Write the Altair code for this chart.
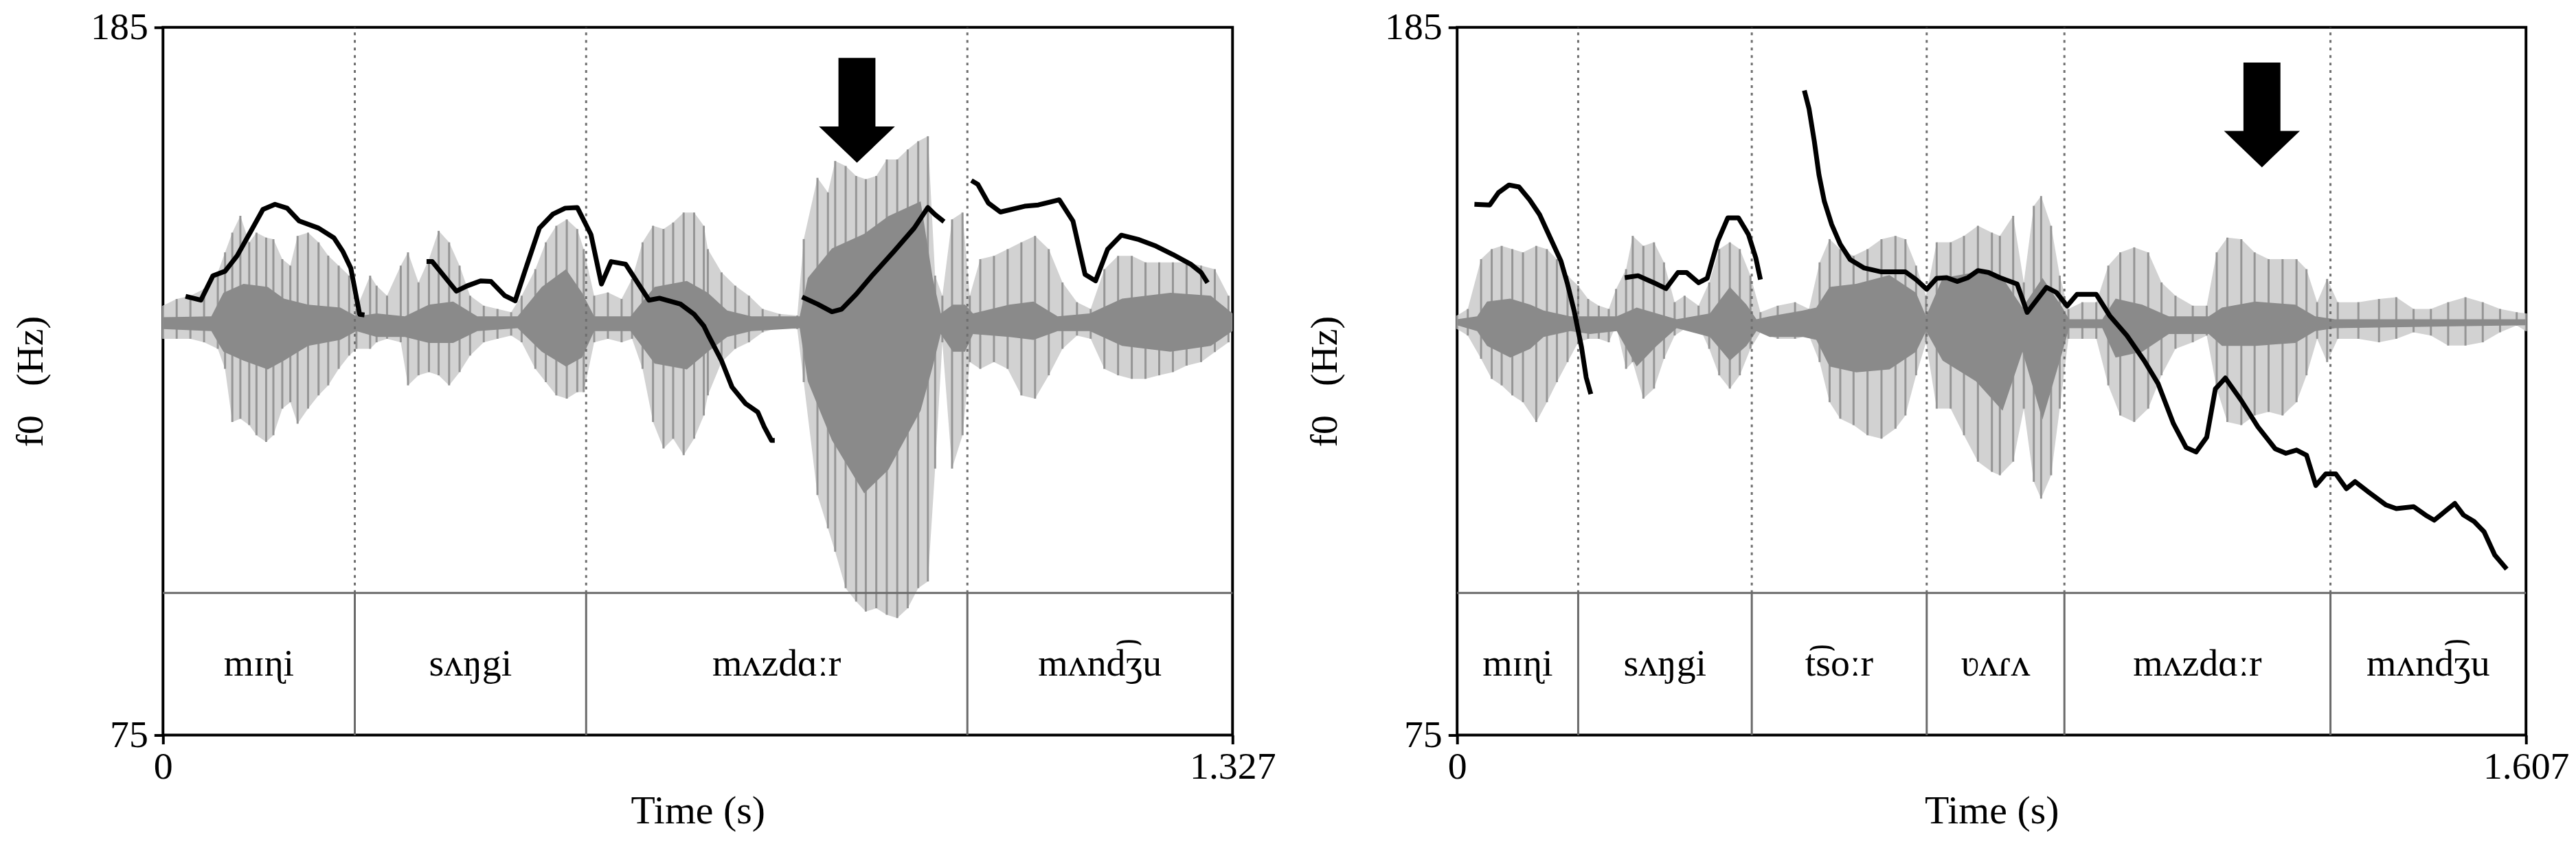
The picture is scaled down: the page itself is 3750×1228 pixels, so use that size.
import altair as alt
import pandas as pd

FONT = "Liberation Serif"
HZ_MIN, HZ_MAX = 75, 185
AMP_MIN, AMP_MAX = -1.4, 1.0
TIER_TOP = 97.1      # Hz-axis value where the text tier begins
TIER_MID = 86.1      # vertical centre of the tier

# ---------------- Left panel (1.327 s) ----------------
L_DUR = 1.327
L_BOUNDS = [0.0, 0.238, 0.525, 0.998, 1.327]
L_LABELS = ["mɪɳi", "sʌŋgi", "mʌzdɑːr", "mʌnd͡ʒu"]

L_F0_T = [
    [0.028, 0.047, 0.062, 0.077, 0.092, 0.109, 0.124, 0.139, 0.154, 0.169, 0.193, 0.212, 0.223, 0.233, 0.244, 0.250],
    [0.327, 0.334, 0.364, 0.377, 0.394, 0.407, 0.424, 0.437, 0.449, 0.467, 0.484, 0.499, 0.514, 0.531, 0.544, 0.556,
     0.574, 0.603, 0.616, 0.642, 0.659, 0.671, 0.676, 0.693, 0.706, 0.723, 0.738, 0.746, 0.755, 0.759],
    [0.793, 0.812, 0.830, 0.842, 0.860, 0.881, 0.907, 0.932, 0.949, 0.958, 0.969],
    [1.003, 1.011, 1.024, 1.039, 1.069, 1.086, 1.112, 1.129, 1.144, 1.157, 1.172, 1.189, 1.211, 1.232, 1.253, 1.275, 1.288, 1.296],
]
L_F0_HZ = [
    [143.2, 142.6, 146.4, 147.1, 149.5, 153.3, 156.7, 157.5, 156.9, 154.9, 153.8, 152.3, 150.2, 147.6, 140.4, 140.3],
    [148.6, 148.6, 144.0, 144.8, 145.6, 145.5, 143.3, 142.5, 147.1, 153.8, 156.0, 156.9, 157.0, 152.8, 145.1, 148.6,
     148.2, 142.6, 142.9, 142.0, 140.4, 138.6, 137.3, 133.2, 129.1, 126.5, 125.2, 122.9, 120.8, 120.8],
    [143.1, 142.0, 140.8, 141.2, 143.5, 146.6, 150.2, 153.8, 157.0, 155.9, 154.8],
    [161.2, 160.6, 157.7, 156.3, 157.2, 157.4, 158.2, 154.9, 146.6, 145.6, 150.5, 152.7, 152.0, 151.0, 149.7, 148.2, 146.9, 145.3],
]

L_WAVE_T = [0.000, 0.017, 0.034, 0.051, 0.068, 0.077, 0.086, 0.096, 0.107, 0.116, 0.128, 0.137, 0.148, 0.158, 0.167,
            0.180, 0.193, 0.205, 0.218, 0.231, 0.240, 0.257, 0.265, 0.278, 0.295, 0.304, 0.317, 0.330, 0.342, 0.355,
            0.368, 0.381, 0.398, 0.415, 0.432, 0.445, 0.462, 0.475, 0.488, 0.501, 0.514, 0.522, 0.535, 0.552, 0.569,
            0.582, 0.595, 0.608, 0.621, 0.633, 0.646, 0.659, 0.671, 0.676, 0.693, 0.710, 0.727, 0.744, 0.765, 0.787,
            0.795, 0.812, 0.825, 0.834, 0.847, 0.860, 0.872, 0.885, 0.898, 0.911, 0.924, 0.937, 0.949, 0.958, 0.967,
            0.979, 0.992, 1.001, 1.014, 1.031, 1.048, 1.065, 1.082, 1.099, 1.116, 1.134, 1.151, 1.168, 1.185, 1.202,
            1.219, 1.236, 1.253, 1.270, 1.288, 1.305, 1.322]
L_WAVE_HI = [0.056, 0.079, 0.090, 0.113, 0.169, 0.237, 0.304, 0.361, 0.271, 0.304, 0.287, 0.282, 0.214, 0.192, 0.293,
             0.304, 0.271, 0.226, 0.192, 0.158, 0.045, 0.158, 0.124, 0.090, 0.192, 0.237, 0.135, 0.214, 0.310, 0.271,
             0.192, 0.090, 0.056, 0.045, 0.034, 0.090, 0.180, 0.271, 0.327, 0.349, 0.316, 0.248, 0.090, 0.101, 0.079,
             0.147, 0.271, 0.327, 0.316, 0.338, 0.372, 0.372, 0.327, 0.248, 0.169, 0.124, 0.090, 0.045, 0.028, 0.023,
             0.282, 0.490, 0.440, 0.547, 0.530, 0.496, 0.485, 0.496, 0.552, 0.552, 0.586, 0.614, 0.631, 0.158, 0.090,
             0.349, 0.372, 0.090, 0.214, 0.225, 0.248, 0.271, 0.293, 0.248, 0.135, 0.068, 0.045, 0.180, 0.225, 0.225,
             0.203, 0.203, 0.203, 0.203, 0.192, 0.180, 0.090]
L_WAVE_LO = [-0.056, -0.056, -0.056, -0.068, -0.090, -0.158, -0.338, -0.327, -0.349, -0.383, -0.406, -0.383, -0.293, -0.271, -0.344,
             -0.293, -0.248, -0.214, -0.158, -0.113, -0.090, -0.090, -0.068, -0.056, -0.068, -0.214, -0.180, -0.169, -0.180, -0.214,
             -0.169, -0.113, -0.068, -0.056, -0.045, -0.068, -0.158, -0.203, -0.248, -0.259, -0.237, -0.237, -0.068, -0.056, -0.068,
             -0.056, -0.158, -0.338, -0.428, -0.395, -0.451, -0.395, -0.316, -0.248, -0.135, -0.090, -0.068, -0.034, -0.017, -0.023,
             -0.203, -0.586, -0.699, -0.778, -0.902, -0.947, -0.981, -0.970, -0.992, -1.003, -0.970, -0.902, -0.879, -0.496, -0.068,
             -0.496, -0.383, -0.135, -0.158, -0.135, -0.158, -0.248, -0.259, -0.180, -0.090, -0.045, -0.056, -0.158, -0.180, -0.192,
             -0.192, -0.180, -0.169, -0.147, -0.135, -0.101, -0.068]

L_CORE_T = [0.000, 0.060, 0.075, 0.100, 0.130, 0.150, 0.180, 0.220, 0.240, 0.265, 0.300, 0.330, 0.360, 0.390, 0.440,
            0.470, 0.500, 0.520, 0.535, 0.580, 0.610, 0.650, 0.676, 0.700, 0.730, 0.790, 0.800, 0.830, 0.870, 0.900,
            0.940, 0.955, 0.965, 0.980, 0.995, 1.005, 1.050, 1.080, 1.110, 1.150, 1.190, 1.250, 1.300, 1.327]
L_CORE_HI = [0.017, 0.02, 0.10, 0.13, 0.12, 0.08, 0.06, 0.05, 0.02, 0.03, 0.02, 0.06, 0.07, 0.02, 0.02,
             0.12, 0.18, 0.10, 0.02, 0.02, 0.12, 0.14, 0.10, 0.04, 0.02, 0.02, 0.15, 0.25, 0.30, 0.36,
             0.41, 0.15, 0.03, 0.06, 0.06, 0.03, 0.06, 0.07, 0.02, 0.03, 0.08, 0.10, 0.09, 0.03]
L_CORE_LO = [-0.023, -0.03, -0.10, -0.13, -0.16, -0.13, -0.08, -0.06, -0.03, -0.05, -0.05, -0.07, -0.07, -0.03, -0.02,
             -0.10, -0.15, -0.12, -0.03, -0.03, -0.14, -0.16, -0.10, -0.05, -0.03, -0.02, -0.20, -0.40, -0.58, -0.50,
             -0.30, -0.15, -0.04, -0.10, -0.10, -0.04, -0.05, -0.06, -0.03, -0.03, -0.08, -0.10, -0.08, -0.03]

L_ARROW_T = [0.861]
L_ARROW_HZ = [172.1]

# ---------------- Right panel (1.607 s) ----------------
R_DUR = 1.607
R_BOUNDS = [0.0, 0.182, 0.443, 0.706, 0.913, 1.313, 1.607]
R_LABELS = ["mɪɳi", "sʌŋgi", "t͡soːr", "ʋʌɾʌ", "mʌzdɑːr", "mʌnd͡ʒu"]

R_F0_T = [
    [0.026, 0.049, 0.062, 0.078, 0.093, 0.109, 0.124, 0.140, 0.156, 0.166, 0.176, 0.187, 0.194, 0.201],
    [0.252, 0.272, 0.296, 0.314, 0.332, 0.345, 0.363, 0.376, 0.392, 0.407, 0.423, 0.438, 0.449, 0.456],
    [0.522, 0.529, 0.537, 0.544, 0.552, 0.563, 0.576, 0.591, 0.612, 0.638, 0.674, 0.690, 0.706, 0.721, 0.736, 0.752,
     0.768, 0.783, 0.799, 0.816, 0.842, 0.857, 0.886, 0.901, 0.917, 0.932, 0.961, 0.981, 1.007, 1.033, 1.054, 1.077,
     1.096, 1.111, 1.127, 1.140, 1.155, 1.179, 1.204, 1.230, 1.246, 1.262, 1.277, 1.291, 1.306, 1.321, 1.337, 1.350,
     1.370, 1.396, 1.412, 1.438, 1.456, 1.469, 1.500, 1.513, 1.529, 1.544, 1.560, 1.578],
]
R_F0_HZ = [
    [157.5, 157.4, 159.3, 160.5, 160.2, 158.2, 155.9, 152.3, 148.7, 145.1, 140.9, 135.3, 130.6, 128.0],
    [146.1, 146.4, 145.3, 144.4, 146.9, 146.9, 145.3, 146.0, 151.8, 155.4, 155.4, 152.8, 149.2, 145.8],
    [175.2, 172.4, 167.3, 162.1, 158.0, 154.4, 151.3, 148.9, 147.6, 147.0, 147.0, 145.8, 144.3, 146.0, 146.1, 145.5,
     146.1, 147.2, 146.9, 146.1, 145.1, 140.7, 144.6, 143.8, 141.7, 143.5, 143.5, 140.2, 137.1, 133.2, 129.6, 123.4,
     119.7, 119.0, 121.3, 128.8, 130.5, 127.0, 122.9, 119.5, 118.8, 119.3, 118.5, 113.8, 115.6, 115.6, 113.3, 114.4,
     112.8, 110.8, 110.2, 110.5, 109.2, 108.4, 111.0, 109.2, 108.2, 106.6, 103.0, 100.8],
]

R_WAVE_T = [0.000, 0.016, 0.036, 0.052, 0.067, 0.083, 0.099, 0.119, 0.135, 0.150, 0.166, 0.182, 0.197, 0.213, 0.228,
            0.239, 0.254, 0.264, 0.280, 0.296, 0.311, 0.327, 0.342, 0.363, 0.379, 0.394, 0.410, 0.425, 0.441, 0.456,
            0.482, 0.508, 0.529, 0.545, 0.560, 0.576, 0.596, 0.617, 0.638, 0.659, 0.674, 0.690, 0.705, 0.721, 0.742,
            0.762, 0.783, 0.804, 0.816, 0.836, 0.852, 0.867, 0.878, 0.893, 0.906, 0.919, 0.940, 0.961, 0.979, 0.997,
            1.018, 1.039, 1.059, 1.080, 1.106, 1.127, 1.142, 1.158, 1.179, 1.199, 1.220, 1.241, 1.262, 1.277, 1.293,
            1.308, 1.324, 1.355, 1.386, 1.412, 1.438, 1.464, 1.490, 1.516, 1.542, 1.568, 1.593, 1.607]
R_WAVE_HI = [0.023, 0.045, 0.214, 0.248, 0.259, 0.248, 0.237, 0.259, 0.248, 0.214, 0.158, 0.124, 0.079, 0.056, 0.045,
             0.113, 0.180, 0.293, 0.259, 0.271, 0.203, 0.068, 0.090, 0.056, 0.135, 0.248, 0.271, 0.248, 0.158, 0.034,
             0.056, 0.068, 0.045, 0.203, 0.282, 0.248, 0.225, 0.248, 0.282, 0.293, 0.282, 0.192, 0.090, 0.271, 0.271,
             0.293, 0.327, 0.304, 0.293, 0.361, 0.135, 0.395, 0.428, 0.327, 0.158, 0.045, 0.068, 0.068, 0.192, 0.237,
             0.254, 0.237, 0.135, 0.090, 0.056, 0.056, 0.237, 0.287, 0.282, 0.237, 0.214, 0.214, 0.214, 0.180, 0.068,
             0.147, 0.068, 0.068, 0.079, 0.085, 0.045, 0.045, 0.068, 0.085, 0.068, 0.045, 0.034, 0.030]
R_WAVE_LO = [-0.023, -0.045, -0.124, -0.192, -0.214, -0.248, -0.271, -0.338, -0.271, -0.203, -0.135, -0.068, -0.056, -0.056, -0.068,
             -0.011, -0.158, -0.135, -0.259, -0.225, -0.124, -0.045, -0.023, -0.011, -0.090, -0.180, -0.225, -0.180, -0.090, -0.034,
             -0.056, -0.056, -0.045, -0.135, -0.271, -0.327, -0.349, -0.383, -0.395, -0.361, -0.316, -0.180, -0.068, -0.293, -0.293,
             -0.383, -0.473, -0.507, -0.519, -0.473, -0.293, -0.541, -0.598, -0.519, -0.293, -0.056, -0.056, -0.056, -0.214, -0.316,
             -0.338, -0.293, -0.180, -0.090, -0.068, -0.045, -0.225, -0.338, -0.349, -0.316, -0.304, -0.316, -0.271, -0.180, -0.056,
             -0.135, -0.056, -0.056, -0.068, -0.056, -0.034, -0.045, -0.079, -0.079, -0.068, -0.034, -0.011, -0.030]

R_CORE_T = [0.000, 0.030, 0.045, 0.080, 0.110, 0.130, 0.170, 0.200, 0.240, 0.270, 0.300, 0.330, 0.380, 0.410, 0.435,
            0.450, 0.470, 0.520, 0.540, 0.560, 0.600, 0.650, 0.690, 0.705, 0.730, 0.780, 0.820, 0.850, 0.880, 0.910,
            0.920, 0.970, 0.990, 1.030, 1.070, 1.130, 1.150, 1.200, 1.260, 1.290, 1.320, 1.607]
R_CORE_HI = [0.01, 0.02, 0.07, 0.08, 0.06, 0.04, 0.02, 0.02, 0.02, 0.05, 0.03, 0.01, 0.03, 0.12, 0.06,
             0.01, 0.02, 0.04, 0.05, 0.12, 0.13, 0.16, 0.10, 0.02, 0.15, 0.17, 0.15, 0.05, 0.15, 0.05,
             0.01, 0.01, 0.08, 0.06, 0.02, 0.02, 0.05, 0.07, 0.06, 0.02, 0.01, 0.01]
R_CORE_LO = [-0.01, -0.03, -0.08, -0.12, -0.09, -0.05, -0.03, -0.04, -0.03, -0.15, -0.08, -0.02, -0.05, -0.13, -0.08,
             -0.03, -0.05, -0.05, -0.06, -0.15, -0.17, -0.16, -0.10, -0.03, -0.13, -0.20, -0.30, -0.10, -0.33, -0.10,
             -0.02, -0.02, -0.12, -0.10, -0.04, -0.04, -0.08, -0.08, -0.07, -0.03, -0.02, -0.01]

R_ARROW_T = [1.210]
R_ARROW_HZ = [171.4]

ARROW_SHAPE = "M -0.353 -1 L 0.353 -1 L 0.353 0.307 L 0.725 0.307 L 0 1 L -0.725 0.307 L -0.353 0.307 Z"


def panel(dur, bounds, labels, f0_t, f0_hz, w_t, w_hi, w_lo, c_t, c_hi, c_lo, a_t, a_hz, width):
    xs = alt.Scale(domain=[0, dur], nice=False, zero=False)
    ys = alt.Scale(domain=[HZ_MIN, HZ_MAX], nice=False, zero=False)
    ws = alt.Scale(domain=[AMP_MIN, AMP_MAX], nice=False, zero=False)
    x_axis = alt.Axis(values=[0, dur], title="Time (s)", domain=False, grid=False,
                      labelExpr="datum.value == 0 ? '0' : format(datum.value, '.3f')",
                      labelPadding=6, titlePadding=8, labelOverlap=False, labelBound=False, labelFlush=False,
                      titleFontSize=58)
    y_axis = alt.Axis(values=[HZ_MIN, HZ_MAX], title="f0\u00a0\u00a0\u00a0(Hz)", domain=False, grid=False,
                      format="d", labelPadding=9, titlePadding=58, labelOverlap=False)
    X = alt.X("t:Q", scale=xs, axis=x_axis)
    Y = alt.Y("hz:Q", scale=ys, axis=y_axis)

    # waveform (own amplitude scale, no axis)
    wdf = pd.DataFrame({"t": w_t, "amp": w_hi, "amp2": w_lo})
    cdf = pd.DataFrame({"t": c_t, "amp": c_hi, "amp2": c_lo})
    WY = alt.Y("amp:Q", scale=ws, axis=None)
    outer = alt.Chart(wdf).mark_area(color="#d2d2d2", opacity=1).encode(x=X, y=WY, y2="amp2:Q")
    pulses = alt.Chart(wdf).mark_rule(color="#959595", strokeWidth=3).encode(x=X, y=WY, y2="amp2:Q")
    core = alt.Chart(cdf).mark_area(color="#8a8a8a", opacity=1).encode(x=X, y=WY, y2="amp2:Q")
    wave = alt.layer(outer, pulses, core)

    inner_b = bounds[1:-1]
    dots = pd.DataFrame({"t": inner_b, "hz": [TIER_TOP] * len(inner_b), "hz2": [HZ_MAX] * len(inner_b)})
    tier_b = pd.DataFrame({"t": inner_b, "hz": [HZ_MIN] * len(inner_b), "hz2": [TIER_TOP] * len(inner_b)})
    tier_line = pd.DataFrame({"t": [0], "t2": [dur], "hz": [TIER_TOP]})
    mids = [(bounds[i] + bounds[i + 1]) / 2 for i in range(len(labels))]
    tier_txt = pd.DataFrame({"t": mids, "hz": [TIER_MID] * len(labels), "label": labels})
    rows = []
    for s, (ts, hs) in enumerate(zip(f0_t, f0_hz)):
        for t, h in zip(ts, hs):
            rows.append({"t": t, "hz": h, "seg": s})
    f0 = pd.DataFrame(rows)
    arrows = pd.DataFrame({"t": a_t, "hz": a_hz})

    dotted = alt.Chart(dots).mark_rule(color="#6e6e6e", strokeWidth=3, strokeDash=[4, 7]).encode(
        x=X, y=Y, y2=alt.Y2("hz2:Q"))
    tierv = alt.Chart(tier_b).mark_rule(color="#6a6a6a", strokeWidth=3).encode(x=X, y=Y, y2=alt.Y2("hz2:Q"))
    tierh = alt.Chart(tier_line).mark_rule(color="#6a6a6a", strokeWidth=3).encode(x=X, x2=alt.X2("t2:Q"), y=Y)
    text = alt.Chart(tier_txt).mark_text(font=FONT, fontSize=56, color="black", baseline="middle",
                                         align="center").encode(x=X, y=Y, text="label:N")
    line = alt.Chart(f0).mark_line(color="black", strokeWidth=7, strokeJoin="round", strokeCap="butt").encode(
        x=X, y=Y, detail="seg:N", order="t:Q")
    arr = alt.Chart(arrows).mark_point(shape=ARROW_SHAPE, size=23400, filled=True, color="black",
                                       opacity=1, strokeWidth=0).encode(x=X, y=Y)
    hzl = alt.layer(dotted, tierv, tierh, text, line, arr)
    return alt.layer(wave, hzl).resolve_scale(y="independent").properties(width=width, height=1033)


left = panel(L_DUR, L_BOUNDS, L_LABELS, L_F0_T, L_F0_HZ, L_WAVE_T, L_WAVE_HI, L_WAVE_LO,
             L_CORE_T, L_CORE_HI, L_CORE_LO, L_ARROW_T, L_ARROW_HZ, 1562)
right = panel(R_DUR, R_BOUNDS, R_LABELS, R_F0_T, R_F0_HZ, R_WAVE_T, R_WAVE_HI, R_WAVE_LO,
              R_CORE_T, R_CORE_HI, R_CORE_LO, R_ARROW_T, R_ARROW_HZ, 1561)

chart = alt.hconcat(left, right, spacing=40).properties(
    padding={"left": 7, "top": 0, "right": 0, "bottom": 0},
    background="white"
).configure_view(stroke="black", strokeWidth=4).configure_axis(
    labelFont=FONT, titleFont=FONT, labelFontSize=56, titleFontSize=56, titleFontWeight="normal",
    labelColor="black", titleColor="black", tickColor="black", tickWidth=4, tickSize=13
)

chart.save("out.html", embed_options={"renderer": "svg", "actions": False})
